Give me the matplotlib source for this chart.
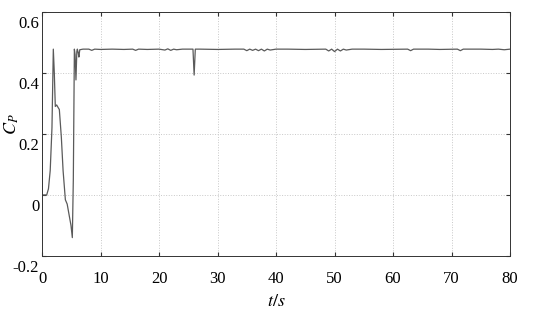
import matplotlib
matplotlib.use("Agg")
import matplotlib.pyplot as plt
import matplotlib.transforms as mtransforms

# power coefficient Cp versus time
t = [0.0, 0.8, 1.1, 1.4, 1.7, 1.93, 2.1, 2.27, 2.5, 2.8, 2.96, 3.3, 3.6, 3.99, 4.3, 4.67, 4.95, 5.18,
     5.35, 5.53, 5.65, 5.8, 5.95, 6.04, 6.2, 6.3, 6.45, 7.0, 8.0, 8.5, 9.0, 10.0, 12.0, 14.0, 15.5,
     16.0, 16.5, 18.0, 20.0, 21.0, 21.5, 22.0, 22.5, 23.0, 24.0, 25.8, 26.0, 26.2, 27.0, 30.0, 33.0,
     34.5, 35.0, 35.5, 36.0, 36.5, 37.0, 37.5, 38.0, 38.5, 39.0, 40.0, 42.0, 45.0, 48.5, 49.0, 49.5,
     50.0, 50.5, 51.0, 51.5, 52.0, 53.0, 55.0, 58.0, 62.5, 63.0, 63.5, 66.0, 68.0, 71.0, 71.5, 72.0,
     75.0, 77.0, 78.0, 79.0, 80.0]
cp = [0.0, 0.0, 0.02, 0.08, 0.22, 0.478, 0.40, 0.29, 0.295, 0.285, 0.28, 0.19, 0.08, -0.016, -0.03,
      -0.07, -0.10, -0.14, 0.05, 0.478, 0.46, 0.377, 0.47, 0.478, 0.465, 0.452, 0.476, 0.478, 0.478,
      0.474, 0.478, 0.477, 0.478, 0.477, 0.478, 0.474, 0.478, 0.477, 0.478, 0.475, 0.479, 0.474,
      0.478, 0.476, 0.478, 0.478, 0.393, 0.478, 0.478, 0.477, 0.478, 0.478, 0.473, 0.478, 0.474,
      0.478, 0.473, 0.478, 0.472, 0.478, 0.475, 0.478, 0.478, 0.477, 0.478, 0.472, 0.478, 0.470,
      0.478, 0.472, 0.478, 0.475, 0.478, 0.478, 0.477, 0.478, 0.473, 0.478, 0.478, 0.477, 0.478,
      0.473, 0.478, 0.478, 0.477, 0.478, 0.476, 0.478]

x_ticks = [0, 10, 20, 30, 40, 50, 60, 70, 80]
y_ticks = [-0.2, 0, 0.2, 0.4, 0.6]
y_tick_labels = ["-0.2", "0", "0.2", "0.4", "0.6"]

plt.rcParams.update({
    "font.family": ["Liberation Serif", "DejaVu Serif"],
    "mathtext.fontset": "stix",
    "xtick.direction": "in",
    "ytick.direction": "in",
})

fig = plt.figure(figsize=(5.5, 3.14), dpi=100)
ax = fig.add_axes([0.0764, 0.185, 0.851, 0.777])

ax.plot(t, cp, color="#5a5a5a", linewidth=0.9)

ax.set_xlim(0, 80)
ax.set_ylim(-0.2, 0.6)
ax.set_xticks(x_ticks)
ax.set_yticks(y_ticks)
ax.set_yticklabels(y_tick_labels)
ax.tick_params(labelsize=12, length=3, color="#333333", top=True, right=True)
ax.tick_params(axis="x", pad=11)
ax.tick_params(axis="y", pad=2)
ax.grid(True, color="#c8c8c8", linestyle=":", linewidth=0.7)
for s in ax.spines.values():
    s.set_color("#333333")
    s.set_linewidth(0.7)

# the MATLAB export puts the y tick labels a little below their ticks
shift = mtransforms.ScaledTranslation(0, -10 / 100, fig.dpi_scale_trans)
for lbl in ax.get_yticklabels():
    lbl.set_transform(lbl.get_transform() + shift)

ax.set_xlabel("$t/s$", fontsize=13)
ax.xaxis.set_label_coords(0.5, -0.15)
ax.set_ylabel("$C_P$", fontsize=13)
ax.yaxis.set_label_coords(-0.045, 0.54)

fig.savefig("out.png", dpi=100)
